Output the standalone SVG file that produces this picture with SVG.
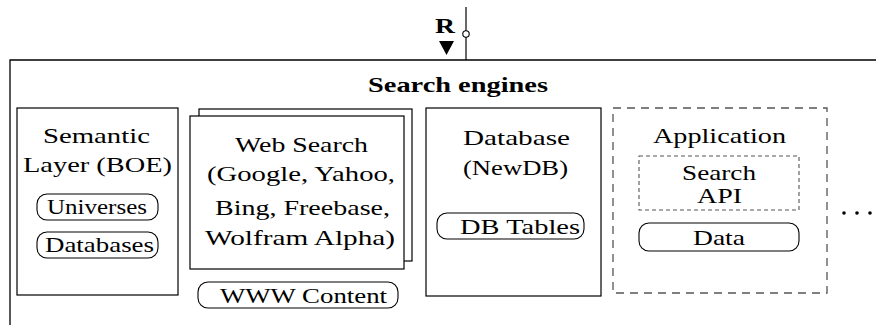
<svg xmlns="http://www.w3.org/2000/svg" width="876" height="325" viewBox="0 0 876 325">
  <style>
    .box { fill: #fff; stroke: #000; stroke-width: 1.2; }
    .dash { fill: none; stroke: #555; stroke-width: 1.3; stroke-dasharray: 8 6; }
    .dash2 { fill: none; stroke: #555; stroke-width: 1.1; stroke-dasharray: 4 3; }
    .pill { fill: none; stroke: #000; stroke-width: 1.1; }
    text { font-family: Liberation Serif, Times New Roman, Noto Serif, DejaVu Serif, serif; font-size: 21px; fill: #000; }
    .bold { font-weight: bold; }
  </style>
  <rect width="876" height="325" fill="#fff"/>

  <!-- enclosing search engines frame -->
  <g id="search-engines">
    <path d="M877 60 H10 V326" fill="none" stroke="#000" stroke-width="1.3"/>
    <text class="bold" x="368" y="92" textLength="180" lengthAdjust="spacingAndGlyphs">Search engines</text>
  </g>

  <!-- required interface R -->
  <g id="interface-r">
    <text class="bold" x="435" y="33" textLength="20" lengthAdjust="spacingAndGlyphs">R</text>
    <polygon points="439,41 454,41 446.5,55" fill="#000"/>
  </g>

  <g id="connectors">
    <line x1="466" y1="7" x2="466" y2="60" stroke="#000" stroke-width="1.2"/>
    <circle cx="466" cy="34" r="3.2" fill="#fff" stroke="#000" stroke-width="1.1"/>
  </g>

  <g id="semantic-layer">
    <rect class="box" x="17" y="108" width="161" height="187"/>
    <text x="43" y="143" textLength="107" lengthAdjust="spacingAndGlyphs">Semantic</text>
    <text x="23" y="172" textLength="149" lengthAdjust="spacingAndGlyphs">Layer (BOE)</text>
    <rect class="pill" x="37" y="194" width="121" height="26" rx="10"/>
    <text x="47" y="214" textLength="100" lengthAdjust="spacingAndGlyphs">Universes</text>
    <rect class="pill" x="37" y="232" width="121" height="26" rx="10"/>
    <text x="45" y="252" textLength="109" lengthAdjust="spacingAndGlyphs">Databases</text>
  </g>

  <g id="web-search">
    <rect class="box" x="199" y="109" width="213" height="152"/>
    <rect class="box" x="190" y="116" width="214" height="153"/>
    <text x="235" y="152" textLength="133" lengthAdjust="spacingAndGlyphs">Web Search</text>
    <text x="207" y="181" textLength="188" lengthAdjust="spacingAndGlyphs">(Google, Yahoo,</text>
    <text x="215" y="215" textLength="175" lengthAdjust="spacingAndGlyphs">Bing, Freebase,</text>
    <text x="205" y="245" textLength="190" lengthAdjust="spacingAndGlyphs">Wolfram Alpha)</text>
    <rect class="pill" x="198" y="282" width="200" height="26" rx="10"/>
    <text x="220" y="303" textLength="167" lengthAdjust="spacingAndGlyphs">WWW Content</text>
  </g>

  <g id="database">
    <rect class="box" x="426" y="108" width="175" height="188"/>
    <text x="463" y="145" textLength="107" lengthAdjust="spacingAndGlyphs">Database</text>
    <text x="463" y="175" textLength="105" lengthAdjust="spacingAndGlyphs">(NewDB)</text>
    <rect class="pill" x="437" y="213" width="147" height="26" rx="10"/>
    <text x="460" y="234" textLength="120" lengthAdjust="spacingAndGlyphs">DB Tables</text>
  </g>

  <g id="application">
    <rect class="dash" x="613" y="108" width="214" height="185"/>
    <text x="653" y="143" textLength="133" lengthAdjust="spacingAndGlyphs">Application</text>
    <rect class="dash2" x="639" y="156" width="160" height="54"/>
    <text x="682" y="180" textLength="74" lengthAdjust="spacingAndGlyphs">Search</text>
    <text x="697" y="203" textLength="45" lengthAdjust="spacingAndGlyphs">API</text>
    <rect class="pill" x="639" y="223" width="160" height="28" rx="10"/>
    <text x="693" y="245" textLength="52" lengthAdjust="spacingAndGlyphs">Data</text>
  </g>

  <g id="more">
    <circle cx="844" cy="213" r="1.8" fill="#000"/>
    <circle cx="857" cy="213" r="1.8" fill="#000"/>
    <circle cx="870" cy="213" r="1.8" fill="#000"/>
  </g>
</svg>
